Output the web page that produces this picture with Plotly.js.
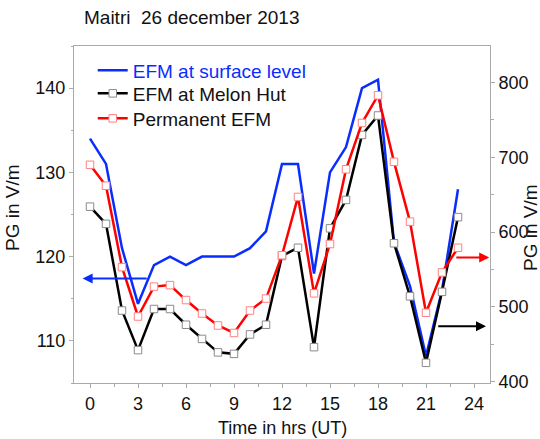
<!DOCTYPE html>
<html>
<head>
<meta charset="utf-8">
<script src="https://cdn.plot.ly/plotly-3.0.1.min.js"></script>
<style>html,body{margin:0;padding:0;background:#fff;}#chart{width:540px;height:439px;}</style>
</head>
<body>
<div id="chart"></div>
<script>
const hours = [0,1,2,3,4,5,6,7,8,9,10,11,12,13,14,15,16,17,18,19,20,21,22,23];
const surfaceEFM = [134,131,121,114.4,119,120,119,120,120,120,121,123,131,131,118,130,133,140,141,121.7,116.5,108.2,116,128];
const melonHutEFM = [634,611,495,442,497,497,476,457,439,437,463,476,568,579,446,605,643,730,756,585,514,425,520,620];
const permanentEFM = [690,662,553,487,527,529,509,491,475,465,495,511,569,647,518,584,684,746,783,694,614,492,546,579];
const xTicks = [0,3,6,9,12,15,18,21,24];
const leftTicks = [110,120,130,140];
const rightTicks = [400,500,600,700,800];
const names = ['EFM at surface level','EFM at Melon Hut','Permanent EFM'];
const titleText = 'Maitri \u00a026 december 2013';
const xTitle = 'Time in hrs (UT)';
const yTitle = 'PG in V/m';

const BLUE = '#0a2dff', RED = '#ff0000', BLACK = '#000000';
const FONT = 'Liberation Sans, Arial, sans-serif';

const traces = [
  {x: hours, y: surfaceEFM, type: 'scatter', mode: 'lines', yaxis: 'y', legend: 'legend',
   name: '<span style="color:' + BLUE + '">' + names[0] + '</span>',
   line: {color: BLUE, width: 2.5}},
  {x: hours, y: melonHutEFM, type: 'scatter', mode: 'lines+markers', yaxis: 'y2', legend: 'legend2',
   name: names[1], line: {color: BLACK, width: 2.5},
   marker: {symbol: 'square', size: 7.5, color: '#ffffff', line: {color: '#8a8a8a', width: 1}}},
  {x: hours, y: permanentEFM, type: 'scatter', mode: 'lines+markers', yaxis: 'y2', legend: 'legend3',
   name: names[2], line: {color: RED, width: 2.5},
   marker: {symbol: 'square', size: 7.5, color: '#ffffff', line: {color: '#ff8080', width: 1}}}
];

const axisCommon = {
  showgrid: false, zeroline: false, showline: true, linecolor: '#aaaaaa', linewidth: 1,
  ticks: 'outside', ticklen: 4, tickcolor: '#aaaaaa', tickwidth: 1,
  tickfont: {family: FONT, size: 18, color: '#111'}
};

function legendAt(yPix) {
  return {x: 0.045, y: (383 - yPix) / 337, xanchor: 'left', yanchor: 'middle',
          bgcolor: 'rgba(0,0,0,0)', borderwidth: 0,
          font: {family: FONT, size: 19, color: '#111'}};
}

const layout = {
  width: 540, height: 439,
  margin: {l: 74, r: 50, t: 46, b: 56},
  paper_bgcolor: '#fff', plot_bgcolor: '#fff',
  font: {family: FONT, color: '#111'},
  title: {text: titleText, xref: 'container', x: 84/540, xanchor: 'left',
          yref: 'container', y: 1 - 17/439, yanchor: 'middle',
          font: {family: FONT, size: 19, color: '#111'}},
  showlegend: true,
  legend: legendAt(70.5),
  legend2: legendAt(93.5),
  legend3: legendAt(118.5),
  xaxis: Object.assign({}, axisCommon, {range: [-1, 25], tickvals: xTicks, mirror: true,
          minor: {dtick: 1.5, tick0: 0, ticks: 'outside', ticklen: 2.5, tickcolor: '#aaaaaa'}}),
  yaxis: Object.assign({}, axisCommon, {range: [105, 145], tickvals: leftTicks,
          minor: {dtick: 5, tick0: 105, ticks: 'outside', ticklen: 2.5, tickcolor: '#aaaaaa'}}),
  yaxis2: Object.assign({}, axisCommon, {range: [398, 849], tickvals: rightTicks,
          overlaying: 'y', side: 'right',
          minor: {dtick: 50, tick0: 400, ticks: 'outside', ticklen: 2.5, tickcolor: '#aaaaaa'}}),
  annotations: [
    {xref: 'paper', yref: 'paper', x: 0.5, y: (383-428)/337, xanchor: 'center', yanchor: 'middle',
     text: xTitle, showarrow: false, font: {family: FONT, size: 18, color: '#111'}},
    {xref: 'paper', yref: 'paper', x: (13-74)/416, y: (383-208)/337, xanchor: 'center', yanchor: 'middle',
     text: yTitle, textangle: -90, showarrow: false, font: {family: FONT, size: 19, color: '#111'}},
    {xref: 'paper', yref: 'paper', x: (530-74)/416, y: (383-228)/337, xanchor: 'center', yanchor: 'middle',
     text: yTitle, textangle: -90, showarrow: false, font: {family: FONT, size: 19, color: '#111'}},
    {xref: 'x', yref: 'y', axref: 'x', ayref: 'y', x: -0.46, y: 117.4, ax: 3.64, ay: 117.4,
     text: '', showarrow: true, arrowhead: 2, arrowsize: 1, arrowwidth: 2, arrowcolor: BLUE},
    {xref: 'x', yref: 'y2', axref: 'x', ayref: 'y2', x: 24.95, y: 566, ax: 22.8, ay: 566,
     text: '', showarrow: true, arrowhead: 2, arrowsize: 1, arrowwidth: 2, arrowcolor: RED},
    {xref: 'x', yref: 'y2', axref: 'x', ayref: 'y2', x: 24.75, y: 474, ax: 21.67, ay: 474,
     text: '', showarrow: true, arrowhead: 2, arrowsize: 1, arrowwidth: 2, arrowcolor: BLACK}
  ]
};

Plotly.newPlot('chart', traces, layout, {staticPlot: true, displayModeBar: false});
</script>
</body>
</html>
